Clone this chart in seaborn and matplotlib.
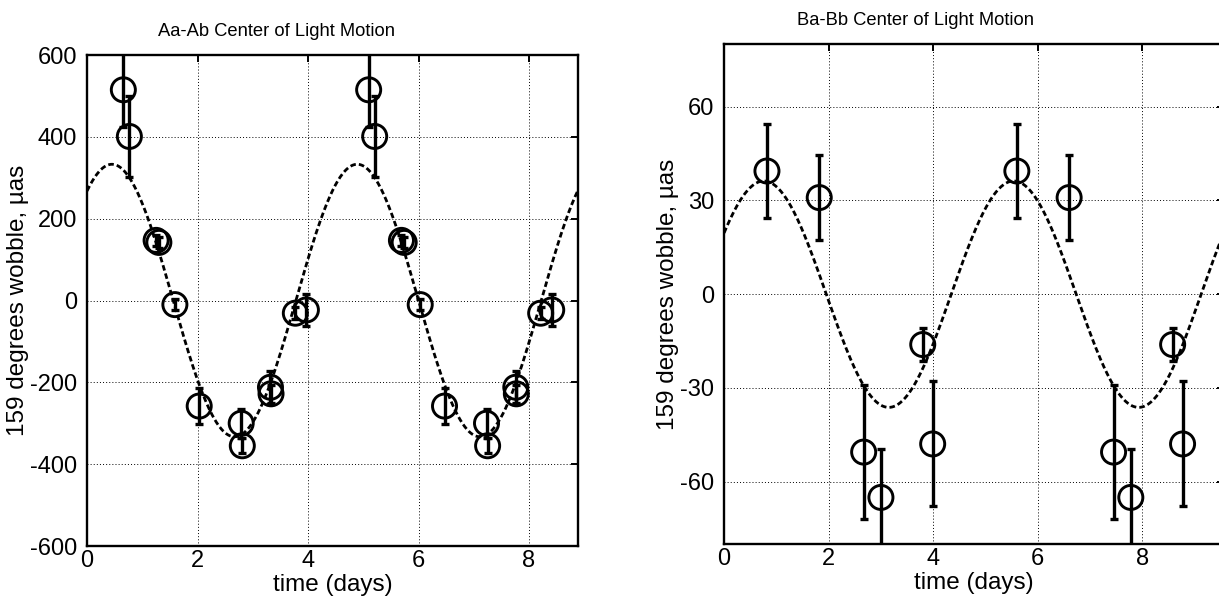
import numpy as np
import pandas as pd
import matplotlib
matplotlib.use("Agg")
import matplotlib.pyplot as plt
import seaborn as sns

# ---- data: Aa-Ab (phase-folded, shown over two periods) ----
a_time = [0.657, 0.766, 1.25, 1.30, 1.59, 2.03, 2.79, 2.81, 3.32, 3.33, 3.77, 3.97]
a_value = [515, 401, 147, 142, -10, -258, -300, -355, -212, -228, -31, -23]
a_err = [90, 100, 14, 14, 14, 45, 35, 18, 40, 22, 14, 40]
a_period = 4.44
a_amp = 333
a_peak = 0.45

# ---- data: Ba-Bb ----
b_time = [0.82, 1.82, 2.67, 3.00, 3.80, 3.99]
b_value = [39.4, 30.9, -50.5, -65.0, -16.1, -47.9]
b_err = [15.0, 13.7, 21.5, 15.5, 5.2, 20.0]
b_period = 4.78
b_amp = 36.2
b_peak = 0.76

a_title = "Aa-Ab Center of Light Motion"
b_title = "Ba-Bb Center of Light Motion"
ylabel = "159 degrees wobble, \u00b5as"
xlabel = "time (days)"
a_yticks = [-600, -400, -200, 0, 200, 400, 600]
b_yticks = [-60, -30, 0, 30, 60]
xticks = [0, 2, 4, 6, 8]

sns.set_style("white")
plt.rcParams['font.family'] = ['Liberation Sans', 'DejaVu Sans']
plt.rcParams['axes.unicode_minus'] = False
plt.rcParams['xtick.direction'] = 'in'
plt.rcParams['ytick.direction'] = 'in'
plt.rcParams['text.color'] = 'black'
plt.rcParams['axes.labelcolor'] = 'black'

fig = plt.figure(figsize=(12.19, 6.02), dpi=100)
ax1 = fig.add_axes([0.0714, 0.093, 0.4025, 0.8156])
ax2 = fig.add_axes([0.594, 0.0958, 0.41, 0.831])


def panel(ax, t, v, e, period, amp, peak, ylim, yticks, title, title_x):
    tt = np.linspace(0, 2 * period, 600)
    model = pd.DataFrame({"t": tt, "y": amp * np.cos(2 * np.pi * (tt - peak) / period)})
    pts = pd.DataFrame({
        "t": list(t) + [x + period for x in t],
        "y": list(v) * 2,
        "e": list(e) * 2,
    })
    ax.set_axisbelow(True)
    ax.grid(True, color='black', linestyle=(0, (1, 2.2)), linewidth=0.7)
    sns.lineplot(data=model, x="t", y="y", ax=ax, color='black', linewidth=2.0,
                 linestyle=(0, (2.0, 1.1)), zorder=2)
    ax.errorbar(pts["t"], pts["y"], yerr=pts["e"], fmt='none', ecolor='black',
                elinewidth=2.4, capsize=2.6, capthick=2.4, zorder=3)
    sns.scatterplot(data=pts, x="t", y="y", ax=ax, marker='o', s=300,
                    facecolors='none', edgecolor='black', linewidth=2.1, zorder=4)
    ax.set_xlim(0, 2 * period)
    ax.set_ylim(*ylim)
    ax.set_xticks(xticks)
    ax.set_yticks(yticks)
    ax.tick_params(axis='both', which='both', direction='in', top=True, right=True,
                   length=5, width=1.4, labelsize=17, color='black', labelcolor='black')
    ax.tick_params(axis='x', pad=3)
    ax.tick_params(axis='y', pad=7)
    for s in ax.spines.values():
        s.set_linewidth(1.7)
        s.set_color('black')
    ax.set_title(title, fontsize=13.2, pad=14, x=title_x, color='black')
    ax.set_xlabel(xlabel, fontsize=17.5, labelpad=1, color='black')
    ax.set_ylabel(ylabel, fontsize=17.5, labelpad=1, color='black')


panel(ax1, a_time, a_value, a_err, a_period, a_amp, a_peak, (-600, 600), a_yticks, a_title, 0.387)
panel(ax2, b_time, b_value, b_err, b_period, b_amp, b_peak, (-80, 80), b_yticks, b_title, 0.383)

fig.savefig("out.png", dpi=100)
